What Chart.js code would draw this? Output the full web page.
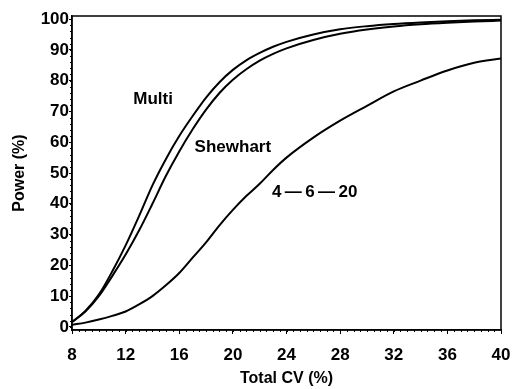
<!DOCTYPE html>
<html>
<head>
<meta charset="utf-8">
<script src="https://cdn.jsdelivr.net/npm/chart.js@4/dist/chart.umd.min.js"></script>
<style>
  html, body { margin: 0; padding: 0; background: #fff; }
  #wrap { width: 513px; height: 389px; }
</style>
</head>
<body>
<div id="wrap"><canvas id="c" width="513" height="389"></canvas></div>
<script>
// ---- data ----
const cvValues = [8, 9, 10, 11, 12, 13, 14, 15, 16, 17, 18, 19, 20, 21, 22, 23, 24, 26, 28, 30, 32, 34, 36, 38, 40];
const multiPower = [1.6, 5.2, 10.5, 18, 26.5, 36, 46, 54.5, 62, 68.5, 74.5, 79.5, 83.5, 86.6, 89, 91, 92.6, 95, 96.7, 97.7, 98.4, 98.9, 99.3, 99.6, 99.8];
const shewhartPower = [1.6, 5, 10, 16.5, 23.5, 31.3, 40, 49, 57, 64.2, 70.6, 76, 80.3, 83.7, 86.5, 88.7, 90.5, 93.2, 95.2, 96.6, 97.6, 98.3, 98.8, 99.2, 99.5];
const rule4620Power = [0.7, 1.4, 2.4, 3.6, 5, 7.3, 10, 13.5, 17.5, 22.5, 27.5, 33, 38, 42.5, 46.5, 51, 55, 61.5, 67, 71.8, 76.5, 80, 83.3, 85.8, 87.2];
const xTicks = [8, 12, 16, 20, 24, 28, 32, 36, 40];
const yTicks = [0, 10, 20, 30, 40, 50, 60, 70, 80, 90, 100];
const curveLabels = [
  { text: 'Multi', x: 14.05, y: 74 },
  { text: 'Shewhart', x: 20.0, y: 58.3 },
  { text: '4\u2009\u2014\u20096\u2009\u2014\u200920', x: 26.1, y: 43.6 }
];

const pts = (ys) => cvValues.map((x, i) => ({ x: x, y: ys[i] }));
const FONT = '"Liberation Sans", Arial, Helvetica, sans-serif';

const framePlugin = {
  id: 'frame',
  afterDraw(chart) {
    const { ctx, chartArea: a, scales } = chart;
    ctx.save();
    ctx.strokeStyle = '#000';
    ctx.lineWidth = 1.5;
    ctx.strokeRect(a.left, a.top, a.right - a.left, a.bottom - a.top);
    // minor ticks
    ctx.lineWidth = 1;
    ctx.beginPath();
    for (let v = 8; v <= 40; v += 0.5) {
      const px = Math.round(scales.x.getPixelForValue(v)) + 0.5;
      ctx.moveTo(px, a.bottom);
      ctx.lineTo(px, a.bottom + 2);
    }
    for (let v = 0; v <= 100; v += 2) {
      const py = Math.round(scales.y.getPixelForValue(v)) + 0.5;
      ctx.moveTo(a.left, py);
      ctx.lineTo(a.left - 2, py);
    }
    ctx.stroke();
    // curve labels
    ctx.fillStyle = '#000';
    ctx.font = 'bold 17px ' + FONT;
    ctx.textAlign = 'center';
    ctx.textBaseline = 'middle';
    curveLabels.forEach(l => {
      ctx.fillText(l.text, scales.x.getPixelForValue(l.x), scales.y.getPixelForValue(l.y));
    });
    ctx.restore();
  }
};

const lineDs = (label, ys) => ({
  label: label,
  data: pts(ys),
  borderColor: '#000',
  borderWidth: 2,
  pointRadius: 0,
  fill: false,
  cubicInterpolationMode: 'monotone'
});

new Chart(document.getElementById('c'), {
  type: 'line',
  data: {
    datasets: [
      lineDs('Multi', multiPower),
      lineDs('Shewhart', shewhartPower),
      lineDs('4-6-20', rule4620Power)
    ]
  },
  options: {
    responsive: false,
    animation: false,
    devicePixelRatio: 1,
    layout: { padding: { top: 16, right: 12, left: 0, bottom: 0 } },
    plugins: { legend: { display: false }, tooltip: { enabled: false } },
    scales: {
      x: {
        type: 'linear',
        min: 8, max: 40,
        afterBuildTicks: (s) => { s.ticks = xTicks.map(v => ({ value: v })); },
        afterFit: (s) => { s.height = 59; s.paddingLeft = 0; s.paddingRight = 0; },
        grid: { display: true, drawOnChartArea: false, drawTicks: true, tickLength: 4, color: '#000', lineWidth: 1 },
        border: { display: true, color: '#000', width: 1.5 },
        ticks: { color: '#000', font: { family: FONT, size: 17, weight: 'bold' }, padding: 11, maxRotation: 0, autoSkip: false },
        title: { display: true, text: 'Total CV (%)', color: '#000', font: { family: FONT, size: 16, weight: 'bold' }, padding: 1 }
      },
      y: {
        type: 'linear',
        min: -1, max: 101,
        afterBuildTicks: (s) => { s.ticks = yTicks.map(v => ({ value: v })); },
        afterFit: (s) => { s.width = 72; s.paddingTop = 0; s.paddingBottom = 0; },
        grid: { display: true, drawOnChartArea: false, drawTicks: true, tickLength: 3, color: '#000', lineWidth: 1 },
        border: { display: true, color: '#000', width: 1.5 },
        ticks: { color: '#000', font: { family: FONT, size: 17, weight: 'bold' }, padding: 0, autoSkip: false },
        title: { display: true, text: 'Power (%)', color: '#000', font: { family: FONT, size: 16, weight: 'bold' }, padding: 10 }
      }
    }
  },
  plugins: [framePlugin]
});
</script>
</body>
</html>
